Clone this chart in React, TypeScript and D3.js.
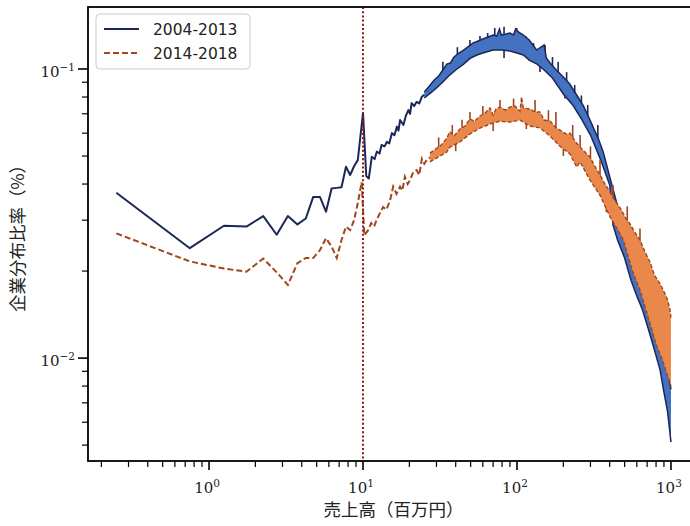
import React from "react";
import * as d3 from "d3";

const WIDTH = 690;
const HEIGHT = 526;
const FRAME = { left: 88, top: 7, right: 699, bottom: 461 };

const seriesNames = ["2004-2013", "2014-2018"];

// 2004-2013: sales (million yen) vs. share of firms (%), sparse low-sales section
const earlyLineX = [0.25, 0.75, 1.25, 1.75, 2.25, 2.75, 3.25, 3.75, 4.25, 4.75, 5.25, 5.75, 6.25, 6.75, 7.25, 7.75, 8.25, 8.75, 9.25, 10.0, 10.5, 10.9, 11.4, 11.9, 12.3, 12.8, 13.2, 13.8, 14.3, 14.8, 15.4, 16.0, 16.6, 17.0, 17.4, 18.3, 19.0, 19.7, 20.2, 20.7, 21.5, 22.3, 23.2, 24.1, 25.0];
const earlyLineY = [0.0373, 0.0240, 0.0287, 0.0285, 0.0310, 0.0267, 0.0310, 0.0290, 0.0304, 0.0361, 0.0361, 0.0321, 0.0386, 0.0388, 0.0390, 0.0459, 0.0430, 0.0461, 0.0484, 0.0705, 0.0426, 0.0418, 0.0497, 0.0488, 0.0518, 0.0510, 0.0546, 0.0540, 0.0560, 0.0553, 0.0600, 0.0590, 0.0632, 0.0612, 0.0666, 0.0640, 0.0690, 0.0721, 0.0700, 0.0762, 0.0745, 0.0770, 0.0760, 0.0801, 0.0815];

// 2004-2013: upper and lower envelope of the dense section
const earlyUpperX = [25, 27, 29, 31, 33, 35, 37, 39, 42, 45, 48, 52, 56, 60, 65, 70, 74, 77, 79, 85, 90, 95, 98, 102, 110, 120, 134, 150, 155, 164, 180, 200, 220, 244, 270, 298, 340, 363, 402, 450, 500, 550, 600, 650, 700, 750, 800, 850, 900, 950, 1000];
const earlyUpperY = [0.0833, 0.0873, 0.0916, 0.0946, 0.0992, 0.1040, 0.1049, 0.1100, 0.1136, 0.1163, 0.1192, 0.1230, 0.1250, 0.1270, 0.1290, 0.1311, 0.1300, 0.1375, 0.1311, 0.1321, 0.1332, 0.1311, 0.1375, 0.1343, 0.1311, 0.1260, 0.1163, 0.1211, 0.1092, 0.1049, 0.0992, 0.0938, 0.0887, 0.0813, 0.0745, 0.0666, 0.0568, 0.0516, 0.0420, 0.0335, 0.0300, 0.0270, 0.0245, 0.0215, 0.0190, 0.0165, 0.0143, 0.0122, 0.0105, 0.0091, 0.0078];
const earlyLowerX = [25, 28, 30, 33, 36, 40, 45, 50, 55, 60, 70, 80, 90, 100, 110, 120, 135, 150, 170, 200, 230, 260, 300, 350, 400, 420, 450, 500, 550, 600, 650, 700, 750, 800, 850, 900, 950, 1000];
const earlyLowerY = [0.0794, 0.0833, 0.0860, 0.0902, 0.0946, 0.0992, 0.1040, 0.1092, 0.1118, 0.1136, 0.1163, 0.1163, 0.1154, 0.1136, 0.1118, 0.1074, 0.1040, 0.0992, 0.0931, 0.0820, 0.0751, 0.0677, 0.0591, 0.0484, 0.0397, 0.0289, 0.0256, 0.0222, 0.0186, 0.0164, 0.0148, 0.0130, 0.0115, 0.0102, 0.00909, 0.00763, 0.00654, 0.00512];

// 2004-2013: isolated outlier bins (sales, share)
const earlySpikeX = [33, 41, 49.5, 57.5, 64.5, 71.7, 82.4, 99.5, 114, 128, 152, 170, 185, 210, 237, 262, 288, 335, 82.4, 141, 205];
const earlySpikeY = [0.1060, 0.1190, 0.1260, 0.1300, 0.1332, 0.1387, 0.1400, 0.1387, 0.1300, 0.1230, 0.1211, 0.1100, 0.1057, 0.0975, 0.0880, 0.0810, 0.0751, 0.0640, 0.1092, 0.0977, 0.0790];

// 2014-2018: sparse low-sales section
const lateLineX = [0.25, 0.75, 1.25, 1.75, 2.25, 2.75, 3.25, 3.75, 4.25, 4.75, 5.25, 5.75, 6.25, 6.75, 7.25, 7.75, 8.25, 8.75, 9.25, 9.8, 10.2, 10.8, 11.3, 11.8, 12.3, 12.9, 13.5, 14.2, 15.0, 15.7, 16.5, 17.4, 18.0, 18.7, 19.5, 20.2, 21.2, 22.3, 23.2, 24.1, 25.0, 25.9, 27.2];
const lateLineY = [0.0270, 0.0216, 0.0204, 0.0199, 0.0221, 0.0198, 0.0179, 0.0213, 0.0222, 0.0222, 0.0236, 0.0260, 0.0243, 0.0222, 0.0256, 0.0285, 0.0277, 0.0300, 0.0344, 0.0406, 0.0266, 0.0277, 0.0293, 0.0285, 0.0302, 0.0318, 0.0333, 0.0326, 0.0352, 0.0392, 0.0370, 0.0392, 0.0380, 0.0424, 0.0400, 0.0413, 0.0440, 0.0447, 0.0430, 0.0489, 0.0470, 0.0484, 0.0495];

// 2014-2018: upper and lower envelope of the dense section
const lateUpperX = [27.2, 29, 31.6, 33, 35, 36.7, 39, 42.6, 46, 49.5, 53, 57.5, 62, 66.8, 70, 73, 77.6, 84, 90.1, 97, 104.6, 107, 110, 121.5, 131, 141, 150, 164, 180, 190, 210, 221, 240, 257, 280, 298, 320, 346, 370, 402, 430, 467, 510, 542, 580, 629, 680, 730, 780, 848, 914, 950, 985, 1000];
const lateUpperY = [0.0512, 0.0524, 0.0541, 0.0554, 0.0577, 0.0607, 0.0586, 0.0620, 0.0635, 0.0672, 0.0659, 0.0688, 0.0704, 0.0733, 0.0693, 0.0727, 0.0739, 0.0721, 0.0739, 0.0745, 0.0715, 0.0800, 0.0733, 0.0727, 0.0710, 0.0710, 0.0666, 0.0660, 0.0625, 0.0615, 0.0595, 0.0600, 0.0559, 0.0537, 0.0512, 0.0496, 0.0461, 0.0430, 0.0403, 0.0375, 0.0352, 0.0331, 0.0304, 0.0291, 0.0273, 0.0256, 0.0232, 0.0215, 0.0194, 0.0181, 0.0167, 0.0159, 0.0147, 0.0138];
const lateLowerX = [27.2, 31.6, 35, 36.7, 42.6, 49.5, 57.5, 66.8, 77.6, 90.1, 104.6, 121.5, 141, 164, 190, 221, 244, 257, 298, 346, 402, 467, 490, 566, 629, 695, 799, 880, 914, 960, 1000];
const lateLowerY = [0.0477, 0.0500, 0.0516, 0.0537, 0.0559, 0.0596, 0.0625, 0.0645, 0.0660, 0.0655, 0.0666, 0.0635, 0.0625, 0.0586, 0.0541, 0.0508, 0.0458, 0.0477, 0.0413, 0.0366, 0.0308, 0.0269, 0.0256, 0.0198, 0.0172, 0.0144, 0.0112, 0.00984, 0.00925, 0.00857, 0.00800];

// 2014-2018: isolated outlier bins
const lateSpikeX = [31, 38, 44, 49.5, 60, 77.6, 95, 131, 160, 179, 230, 257, 300, 346, 420, 520, 629, 40, 70, 115, 200, 380];
const lateSpikeY = [0.0580, 0.0640, 0.0668, 0.0710, 0.0745, 0.0781, 0.0790, 0.0781, 0.0720, 0.0710, 0.0640, 0.0591, 0.0540, 0.0484, 0.0397, 0.0335, 0.0281, 0.0520, 0.0610, 0.0620, 0.0500, 0.0320];

// reference threshold on the sales axis
const thresholdSales = 10;

// labelled decades
const xMajorTicks = [1, 10, 100, 1000];
const xMajorExponents = ["0", "1", "2", "3"];
const yMajorTicks = [0.01, 0.1];
const yMajorExponents = ["\u22122", "\u22121"];

const NAVY = "#1c2759";
const BLUE_FILL = "#4472c0";
const BROWN = "#a3461d";
const ORANGE_FILL = "#ea884b";

type Pt = [number, number];
const zip = (xs: number[], ys: number[]): Pt[] => xs.map((v, i) => [v, ys[i]] as Pt);
const isMajor = (t: number) => Math.abs(Math.log10(t) - Math.round(Math.log10(t))) < 1e-9;

export default function App() {
  const x = d3
    .scaleLog()
    .domain([Math.pow(10, -0.786), Math.pow(10, 3.182)])
    .range([FRAME.left, FRAME.right]);
  const y = d3
    .scaleLog()
    .domain([Math.pow(10, -2.356), Math.pow(10, -0.7855)])
    .range([FRAME.bottom, FRAME.top]);

  const line = d3
    .line<Pt>()
    .x((d) => x(d[0]))
    .y((d) => y(d[1]));

  const band = (ux: number[], uy: number[], lx: number[], ly: number[]) =>
    (line(zip(ux, uy).concat(zip(lx, ly).reverse())) || "") + "Z";

  // band mid-line, used as the foot of each outlier stroke
  const midOf = (ux: number[], uy: number[], lx: number[], ly: number[]) => {
    const up = d3.scaleLog().domain(ux).range(uy.map((v) => Math.log10(v)));
    const lo = d3.scaleLog().domain(lx).range(ly.map((v) => Math.log10(v)));
    return (v: number) => Math.pow(10, (up(v) + lo(v)) / 2);
  };
  const earlyMid = midOf(earlyUpperX, earlyUpperY, earlyLowerX, earlyLowerY);
  const lateMid = midOf(lateUpperX, lateUpperY, lateLowerX, lateLowerY);

  const xMinor = x.ticks().filter((t) => !isMajor(t) && t >= x.domain()[0] && t <= x.domain()[1]);
  const yMinor = y.ticks().filter((t) => !isMajor(t) && t >= y.domain()[0] && t <= y.domain()[1]);

  const serif = "'DejaVu Serif', 'Liberation Serif', serif";
  const sans = "'DejaVu Sans', sans-serif";
  const cjk = "'Noto Sans CJK JP', 'Noto Sans', sans-serif";

  return (
    <svg
      width={WIDTH}
      height={HEIGHT}
      style={{ position: "absolute", left: 0, top: 0, background: "#fff" }}
    >
      <defs>
        <clipPath id="plot-area">
          <rect
            x={FRAME.left}
            y={FRAME.top}
            width={FRAME.right - FRAME.left}
            height={FRAME.bottom - FRAME.top}
          />
        </clipPath>
      </defs>

      <g clipPath="url(#plot-area)">
        {/* 2004-2013 */}
        {earlySpikeX.map((v, i) => (
          <line
            key={"es" + i}
            x1={x(v)}
            x2={x(v)}
            y1={y(earlyMid(v))}
            y2={y(earlySpikeY[i])}
            stroke={NAVY}
            strokeWidth={1.6}
          />
        ))}
        <path
          d={band(earlyUpperX, earlyUpperY, earlyLowerX, earlyLowerY)}
          fill={BLUE_FILL}
          stroke="none"
        />
        <path d={line(zip(earlyUpperX, earlyUpperY)) || ""} fill="none" stroke={NAVY} strokeWidth={1.5} />
        <path d={line(zip(earlyLowerX, earlyLowerY)) || ""} fill="none" stroke={NAVY} strokeWidth={1.5} />
        <path
          d={line(zip(earlyLineX, earlyLineY)) || ""}
          fill="none"
          stroke={NAVY}
          strokeWidth={2}
          strokeLinejoin="round"
        />

        {/* 2014-2018 */}
        {lateSpikeX.map((v, i) => (
          <line
            key={"ls" + i}
            x1={x(v)}
            x2={x(v)}
            y1={y(lateMid(v))}
            y2={y(lateSpikeY[i])}
            stroke={BROWN}
            strokeWidth={1.6}
          />
        ))}
        <path
          d={band(lateUpperX, lateUpperY, lateLowerX, lateLowerY)}
          fill={ORANGE_FILL}
          stroke="none"
        />
        <path
          d={line(zip(lateUpperX, lateUpperY)) || ""}
          fill="none"
          stroke={BROWN}
          strokeWidth={1.4}
          strokeDasharray="4,2"
        />
        <path
          d={line(zip(lateLowerX, lateLowerY)) || ""}
          fill="none"
          stroke={BROWN}
          strokeWidth={1.4}
          strokeDasharray="4,2"
        />
        <path
          d={line(zip(lateLineX, lateLineY)) || ""}
          fill="none"
          stroke={BROWN}
          strokeWidth={2}
          strokeDasharray="6,3"
        />

        {/* threshold */}
        <line
          x1={x(thresholdSales)}
          x2={x(thresholdSales)}
          y1={FRAME.top}
          y2={FRAME.bottom}
          stroke="#8c1c13"
          strokeWidth={2}
          strokeDasharray="2,2.2"
        />
      </g>

      {/* frame */}
      <rect
        x={FRAME.left}
        y={FRAME.top}
        width={FRAME.right - FRAME.left}
        height={FRAME.bottom - FRAME.top}
        fill="none"
        stroke="#000"
        strokeWidth={1.8}
      />

      {/* x axis ticks */}
      {xMinor.map((t) => (
        <line key={"xm" + t} x1={x(t)} x2={x(t)} y1={FRAME.bottom} y2={FRAME.bottom + 6} stroke="#000" strokeWidth={1.2} />
      ))}
      {xMajorTicks.map((t, i) => (
        <g key={"xM" + t}>
          <line x1={x(t)} x2={x(t)} y1={FRAME.bottom} y2={FRAME.bottom + 9} stroke="#000" strokeWidth={1.6} />
          <text x={x(t) - 2} y={FRAME.bottom + 32} textAnchor="middle" fontFamily={serif} fontSize={15} fill="#222">
            10
            <tspan dy={-6} fontSize={10.5}>
              {xMajorExponents[i]}
            </tspan>
          </text>
        </g>
      ))}

      {/* y axis ticks */}
      {yMinor.map((t) => (
        <line key={"ym" + t} x1={FRAME.left - 6} x2={FRAME.left} y1={y(t)} y2={y(t)} stroke="#000" strokeWidth={1.2} />
      ))}
      {yMajorTicks.map((t, i) => (
        <g key={"yM" + t}>
          <line x1={FRAME.left - 10} x2={FRAME.left} y1={y(t)} y2={y(t)} stroke="#000" strokeWidth={1.6} />
          <text x={FRAME.left - 13} y={y(t) + 8} textAnchor="end" fontFamily={serif} fontSize={15} fill="#222">
            10
            <tspan dy={-6} fontSize={10.5}>
              {yMajorExponents[i]}
            </tspan>
          </text>
        </g>
      ))}

      {/* axis titles */}
      <text
        x={(FRAME.left + FRAME.right) / 2}
        y={516}
        textAnchor="middle"
        fontFamily={cjk}
        fontSize={17.5}
        fill="#222"
      >
        売上高（百万円）
      </text>
      <text
        transform={`translate(24, ${(FRAME.top + FRAME.bottom) / 2}) rotate(-90)`}
        textAnchor="middle"
        fontFamily={cjk}
        fontSize={17.5}
        fill="#222"
      >
        企業分布比率（%）
      </text>

      {/* legend */}
      <g>
        <rect x={96} y={14} width={154} height={55} rx={4} fill="#fff" fillOpacity={0.85} stroke="#cccccc" strokeWidth={1} />
        <line x1={104} x2={139} y1={29} y2={29} stroke={NAVY} strokeWidth={2} />
        <text x={153} y={34.5} fontFamily={sans} fontSize={15.5} fill="#222">
          {seriesNames[0]}
        </text>
        <line x1={104} x2={139} y1={53} y2={53} stroke={BROWN} strokeWidth={2} strokeDasharray="6,3" />
        <text x={153} y={58.5} fontFamily={sans} fontSize={15.5} fill="#222">
          {seriesNames[1]}
        </text>
      </g>
    </svg>
  );
}
